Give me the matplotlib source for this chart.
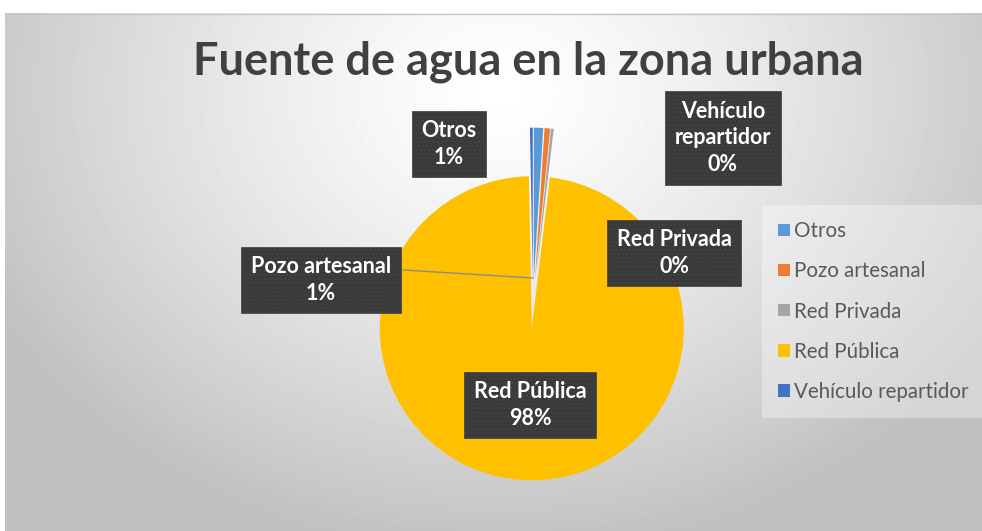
import numpy as np
import matplotlib
matplotlib.use('Agg')
import matplotlib.pyplot as plt

# datos
fuentes = ['Otros', 'Pozo artesanal', 'Red Privada', 'Red Pública', 'Vehículo repartidor']
porcentajes = [1.0, 0.6, 0.3, 97.8, 0.3]
colores = ['#5B9BD5', '#ED7D31', '#A5A5A5', '#FFC000', '#4472C4']
titulo = 'Fuente de agua en la zona urbana'

W, H = 982, 531
plt.rcParams['font.family'] = ['Lato', 'DejaVu Sans']
plt.rcParams['hatch.linewidth'] = 0.4

fig = plt.figure(figsize=(W / 100, H / 100), dpi=100)
fig.patch.set_facecolor('white')

def fx(px):
    return px / W

def fy(py):
    return 1 - py / H

# fondo con degradado radial
bg = fig.add_axes([0, 0, 1, 1], zorder=-5)
bg.set_xlim(0, W)
bg.set_ylim(H, 0)
bg.axis('off')
yy, xx = np.mgrid[13:H, 5:W]
d = np.sqrt(((xx - 500) / 580.0) ** 2 + ((yy - 90) / 470.0) ** 2)
d = np.clip(d, 0, 1)
g = 1.0 - 0.25 * d ** 1.3
bg.imshow(g, cmap='gray', vmin=0, vmax=1, extent=(5, W, H, 13), aspect='auto')
bg.plot([5, W], [13.5, 13.5], color='#c8c8c8', lw=1)

# pastel
r_px = 152
cx, cy = 533, 304
lim = 1.5
half = lim * r_px
ax = fig.add_axes([fx(cx - half), fy(cy + half), 2 * half / W, 2 * half / H])
wedges, _ = ax.pie(porcentajes, colors=colores, startangle=90, counterclock=False,
                   explode=[0.16] * len(porcentajes), radius=1,
                   wedgeprops=dict(linewidth=0))
ax.set_xlim(-lim, lim)
ax.set_ylim(-lim, lim)
ax.set_aspect('equal')
ax.axis('off')

# titulo
fig.text(fx(528), fy(62), titulo, ha='center', va='center', fontsize=32.5,
         fontweight='bold', color='#404040')

# etiquetas de datos
pos_etiquetas = {
    'Otros': (449, 144),
    'Pozo artesanal': (321, 280),
    'Red Privada': (674, 253),
    'Red Pública': (530, 405),
    'Vehículo repartidor': (723, 138),
}
caja = dict(boxstyle='square,pad=0.45', facecolor='#3a3a3a', edgecolor='#4a4a4a',
            hatch='....', linewidth=0.6)
for nombre, valor in zip(fuentes, porcentajes):
    texto = nombre.replace(' repartidor', '\nrepartidor') + '\n' + f'{round(valor)}%'
    px, py = pos_etiquetas[nombre]
    fig.text(fx(px), fy(py), texto, ha='center', va='center', fontsize=15.5,
             fontweight='bold', color='white', linespacing=1.32, bbox=caja,
             zorder=5)

# linea guia
fig.add_artist(plt.Line2D([fx(403), fx(533)], [fy(270), fy(278)],
                          color='#8c8c8c', lw=1, zorder=4))

# leyenda
leg = fig.legend(wedges, fuentes, loc='upper left', bbox_to_anchor=(fx(768), fy(211)),
                 frameon=True, fontsize=14.8, handlelength=0.55, handleheight=0.55,
                 handletextpad=0.2, labelspacing=0.98, borderpad=0.5,
                 borderaxespad=0)
leg.get_frame().set_facecolor('white')
leg.get_frame().set_alpha(0.35)
leg.get_frame().set_edgecolor('none')
leg.get_frame().set_boxstyle('square')
for t in leg.get_texts():
    t.set_color('#595959')

fig.savefig('out.png', dpi=100)
